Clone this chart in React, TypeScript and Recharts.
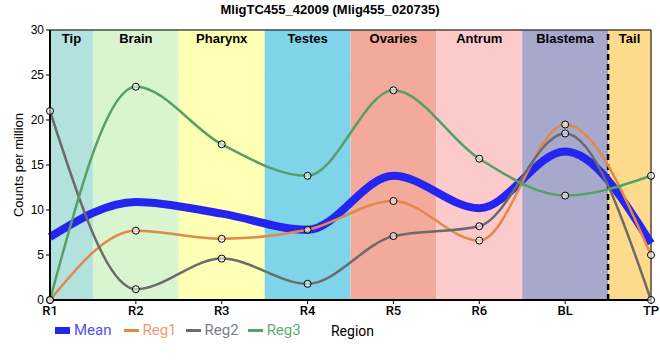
import {
  LineChart,
  Line,
  XAxis,
  YAxis,
  CartesianGrid,
  ReferenceArea,
  ReferenceLine,
} from 'recharts';

const regions = ['R1', 'R2', 'R3', 'R4', 'R5', 'R6', 'BL', 'TP'];
const meanValues = [7.0, 10.9, 9.6, 7.8, 13.8, 10.2, 16.5, 6.3];
const reg1Values = [0, 7.7, 6.8, 7.8, 11.0, 6.6, 19.5, 5.0];
const reg2Values = [21.0, 1.2, 4.6, 1.8, 7.1, 8.2, 18.5, 0];
const reg3Values = [0, 23.7, 17.3, 13.8, 23.3, 15.7, 11.6, 13.8];

const bandNames = ['Tip', 'Brain', 'Pharynx', 'Testes', 'Ovaries', 'Antrum', 'Blastema', 'Tail'];
const bandColors = ['#b3e2de', '#d8f5d0', '#ffffb3', '#80d4ea', '#f4aa9b', '#fccaca', '#a8a8cd', '#fedb8c'];
const yTicks = [0, 5, 10, 15, 20, 25, 30];

const data = regions.map((r, i) => ({
  x: i,
  mean: meanValues[i],
  reg1: reg1Values[i],
  reg2: reg2Values[i],
  reg3: reg3Values[i],
}));

const series = [
  { key: 'reg1', name: 'Reg1', color: '#e0894a', text: '#e8a070' },
  { key: 'reg2', name: 'Reg2', color: '#6b6b6b', text: '#7c7c8c' },
  { key: 'reg3', name: 'Reg3', color: '#55a064', text: '#62ad72' },
];

const dot = { r: 3.5, stroke: '#000', strokeWidth: 1, fill: '#ffffff', fillOpacity: 0.55 };

function LegendRow() {
  return (
    <div
      style={{
        position: 'absolute',
        left: 55,
        top: 320,
        display: 'flex',
        alignItems: 'center',
        fontFamily: 'Roboto, sans-serif',
        fontSize: 15,
        lineHeight: '20px',
      }}
    >
      <span style={{ display: 'inline-block', width: 15, height: 7, background: '#2525f2', marginRight: 4 }} />
      <span style={{ color: '#5050f0', marginRight: 12 }}>Mean</span>
      {series.map((s) => (
        <span key={s.key} style={{ display: 'flex', alignItems: 'center', marginRight: 9 }}>
          <span style={{ display: 'inline-block', width: 15, height: 3, background: s.color, marginRight: 4 }} />
          <span style={{ color: s.text }}>{s.name}</span>
        </span>
      ))}
    </div>
  );
}

export default function App() {
  return (
    <div style={{ position: 'absolute', left: 0, top: 0, width: 660, height: 360, background: '#fff' }}>
      <div
        style={{
          position: 'absolute',
          top: 2,
          left: 0,
          width: 660,
          textAlign: 'center',
          fontFamily: '"Liberation Sans", Arial, sans-serif',
          fontWeight: 'bold',
          fontSize: 13,
        }}
      >
        MligTC455_42009 (Mlig455_020735)
      </div>
      <LineChart width={660} height={360} data={data} margin={{ top: 30, right: 9, left: 0, bottom: 20 }}>
        {bandNames.map((b, i) => (
          <ReferenceArea
            key={b}
            x1={Math.max(0, i - 0.5)}
            x2={Math.min(7, i + 0.5)}
            y1={0}
            y2={30}
            fill={bandColors[i]}
            fillOpacity={1}
            stroke="none"
            ifOverflow="hidden"
            label={{
              value: b,
              position: 'insideTop',
              offset: 4,
              fill: '#000',
              fontWeight: 'bold',
              fontSize: 13,
              fontFamily: '"Liberation Sans", Arial, sans-serif',
            }}
          />
        ))}
        <CartesianGrid stroke="#c8c8c8" fill="none" />
        <ReferenceArea x1={0} x2={7} y1={0} y2={30} fill="none" stroke="#000" strokeWidth={1} />
        <ReferenceLine x={6.5} stroke="#000" strokeWidth={2.5} strokeDasharray="6 4" />
        <XAxis
          dataKey="x"
          type="number"
          domain={[0, 7]}
          ticks={regions.map((_, i) => i)}
          tickFormatter={(v: number) => regions[v]}
          interval={0}
          height={40}
          tickSize={4}
          axisLine={{ stroke: '#000', strokeWidth: 2 }}
          tickLine={{ stroke: '#000' }}
          tick={{ fill: '#000', fontSize: 13, fontWeight: 500, fontFamily: 'Roboto, sans-serif' }}
          label={{
            value: 'Region',
            position: 'insideBottom',
            offset: 4,
            fill: '#000',
            fontSize: 14,
            fontFamily: 'Roboto, sans-serif',
            dx: 2,
          }}
        />
        <YAxis
          width={50}
          domain={[0, 30]}
          ticks={yTicks}
          interval={0}
          tickSize={4}
          axisLine={{ stroke: '#000', strokeWidth: 2 }}
          tickLine={{ stroke: '#000' }}
          tick={{ fill: '#000', fontSize: 12, fontFamily: '"Liberation Sans", Arial, sans-serif' }}
          label={{
            value: 'Counts per million',
            angle: -90,
            position: 'insideLeft',
            offset: 18,
            fill: '#000',
            fontSize: 13,
            fontFamily: '"Liberation Sans", Arial, sans-serif',
            style: { textAnchor: 'middle' },
          }}
        />
        <Line
          type="monotone"
          dataKey="mean"
          stroke="#2525f2"
          strokeWidth={8}
          dot={false}
          isAnimationActive={false}
        />
        {series.map((s) => (
          <Line
            key={s.key}
            type="monotone"
            dataKey={s.key}
            stroke={s.color}
            strokeWidth={2.5}
            dot={dot}
            isAnimationActive={false}
          />
        ))}
      </LineChart>
      <LegendRow />
    </div>
  );
}
